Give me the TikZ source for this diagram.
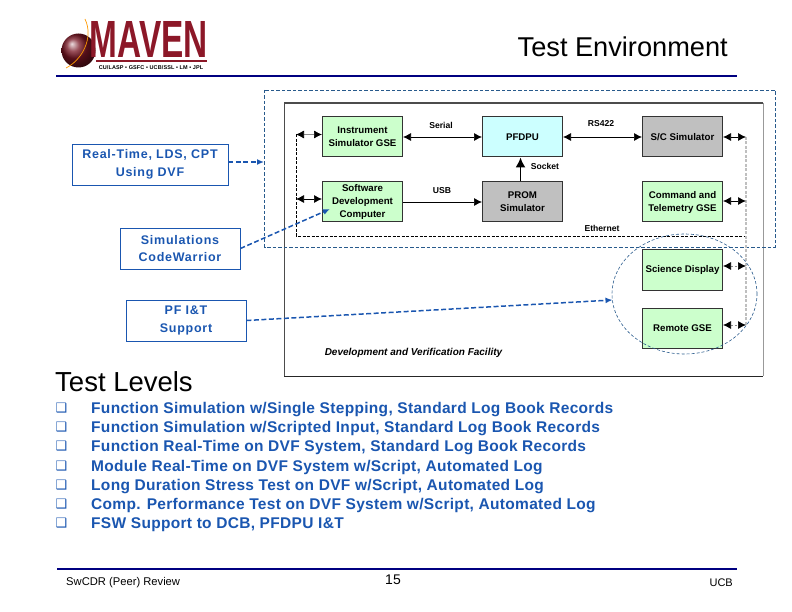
\documentclass[tikz,border=0pt]{standalone}
\usepackage{fontspec}
\setmainfont{Liberation Sans}
\newfontfamily\symfont{DejaVu Sans}
\usetikzlibrary{arrows.meta,positioning}
\definecolor{navy}{RGB}{0,0,128}
\definecolor{notecol}{RGB}{26,86,176}
\definecolor{framecol}{RGB}{40,90,140}
\definecolor{simgreen}{RGB}{204,255,204}
\definecolor{simcyan}{RGB}{204,255,255}
\definecolor{simgray}{RGB}{192,192,192}
\definecolor{maroon}{RGB}{140,24,40}
\begin{document}
\begin{tikzpicture}[x=1pt,y=-1pt,node distance=24pt and 79pt,
unit/.style={draw=black!80,line width=1pt,minimum width=80pt,minimum height=40pt,inner sep=0pt,align=center,font=\fontsize{9.7}{13}\selectfont\bfseries},
greenunit/.style={unit,fill=simgreen},
grayunit/.style={unit,fill=simgray},
tag/.style={font=\fontsize{8.6}{9}\selectfont\bfseries,inner sep=0pt},
notebox/.style={draw=notecol,line width=.8pt,inner sep=0pt,align=center,text=notecol,font=\fontsize{12.5}{17.5}\selectfont\bfseries\addfontfeature{LetterSpace=6}},
link/.style={{Latex[length=8pt,width=8pt]}-{Latex[length=8pt,width=8pt]},line width=.7pt,black},
faintlink/.style={{Latex[length=8pt,width=8pt,black]}-{Latex[length=8pt,width=8pt,black]},line width=.7pt,black!45},
oneway/.style={-{Latex[length=8pt,width=8pt]},line width=.7pt,black},
pointer/.style={-{Latex[length=7pt,width=6pt]},notecol,dash pattern=on 5pt off 2.5pt,line width=1.5pt},
item/.style={anchor=base west,inner sep=0pt,text=notecol,font=\fontsize{15.5}{16}\selectfont\bfseries\addfontfeature{LetterSpace=2}},
tickbox/.style={inner sep=0pt,text=notecol,font=\symfont\fontsize{13}{13}\selectfont}]
\useasboundingbox (0,0) rectangle (792,612);
% logo
\shade[ball color=maroon!85!black] (78.5,50.5) circle (17pt);
\draw[orange!80!yellow,line width=.7pt] (85,19) .. controls (94,38) and (82,60) .. (66,68);
\node[inner sep=0pt,text=maroon] (maven) at (149,40) {\resizebox{118pt}{36pt}{\bfseries MAVEN}};
\draw[maroon,line width=1.2pt] (96,61) -- (207,61);
\node[inner sep=0pt,font=\fontsize{5.5}{6}\selectfont\bfseries\addfontfeature{LetterSpace=2}] (partners) at (151,67.5) {CU/LASP • GSFC • UCB/SSL • LM • JPL};
% title and rules
\node[anchor=base east,inner sep=0pt,font=\fontsize{27.2}{30}\selectfont] (title) at (728,57) {Test Environment};
\draw[navy,line width=2.5pt] (56,76) -- (737,76);
\draw[navy,line width=2.5pt] (57,569) -- (737,569);
% facility frame
\draw[black!40,line width=.8pt] (763,103) -- (763,376);
\draw[black!70,line width=1pt] (284,376) -- (284,103);
\draw[black!70,line width=1.5pt] (284,103) -- (763,103);
\draw[black!85,line width=.8pt] (284,376) -- (763,376);
\draw[framecol,dash pattern=on 3.5pt off 2pt,line width=.7pt] (264.5,90) rectangle (775,247);
% units
\node[greenunit] (isim) at (362.5,137) {Instrument\\Simulator GSE};
\node[unit,fill=simcyan,right=of isim] (pfdpu) {PFDPU};
\node[grayunit,right=of pfdpu] (sc) {S/C Simulator};
\node[greenunit,below=of isim] (sdc) {Software\\Development\\Computer};
\node[grayunit,below=of pfdpu] (prom) {PROM\\Simulator};
\node[greenunit,below=of sc] (cmd) {Command and\\Telemetry GSE};
\node[greenunit,below=27pt of cmd] (display) {Science Display};
\node[greenunit,below=17pt of display] (remote) {Remote GSE};
% bus ends
\coordinate (isimbus) at (296,134.5);
\coordinate (sdcbus) at (296,199);
\coordinate (buscornerl) at (296,236);
\coordinate (buscornerr) at (746,236);
\coordinate (scbus) at (746,137);
\coordinate (cmdbus) at (746,201);
\coordinate (displaybus) at (746,266);
\coordinate (remotebus) at (746,325);
\draw[black,dash pattern=on 3pt off 1.5pt,line width=.7pt] (isimbus) -- (buscornerl) -- (buscornerr);
\draw[black!25,dash pattern=on 3pt off 1.5pt,line width=1.2pt] (scbus) -- (remotebus);
\draw[faintlink] (isimbus) -- (isim.west |- isimbus);
\draw[link] (sdcbus) -- (sdc.west |- sdcbus);
\draw[link] (sc.east |- scbus) -- (scbus);
\draw[link] (cmd.east |- cmdbus) -- (cmdbus);
\draw[faintlink,dash pattern=on 2pt off 2pt] (display.east |- displaybus) -- (displaybus);
\draw[faintlink,dash pattern=on 2pt off 2pt] (remote.east |- remotebus) -- (remotebus);
\draw[link] (isim) -- (pfdpu);
\draw[link] (pfdpu) -- (sc);
\draw[oneway] (sdc) -- (prom);
\draw[-{Latex[length=10pt,width=10pt]},line width=1.5pt] ([xshift=-2pt]prom.north) -- ([xshift=-2pt]pfdpu.south);
% labels
\node[tag] (serial) at (441,125) {Serial};
\node[tag] (usb) at (442,191) {USB};
\node[tag] (rs) at (601,124) {RS422};
\node[tag] (socket) at (545,166) {Socket};
\node[tag] (ethernet) at (602,228) {Ethernet};
\node[tag,font=\fontsize{10}{11}\selectfont\bfseries\itshape] (facility) at (413.5,353) {Development and Verification Facility};
\draw[framecol,dash pattern=on 3pt off 2pt,line width=.6pt] (684.5,294) ellipse (72.5pt and 60pt);
\coordinate (groupleft) at (612.5,300);
\coordinate (frameleft) at (264,162);
\coordinate (sdcpoint) at (330,209);
% notes
\node[notebox,minimum width=156pt,minimum height=41pt] (rt) at (150,164.5) {Real-Time, LDS, CPT\\Using DVF};
\node[notebox,minimum width=120pt,minimum height=41pt] (sim) at (180,248.5) {Simulations\\CodeWarrior};
\node[notebox,minimum width=120pt,minimum height=41pt] (pf) at (186,320.5) {PF I\&T\\Support};
\draw[pointer] (rt.east |- frameleft) -- (frameleft);
\draw[pointer] (sim.east) -- (sdcpoint);
\draw[pointer] (pf.east) -- (groupleft);
% test levels
\node[anchor=base west,inner sep=0pt,font=\fontsize{27.5}{30}\selectfont] (levels) at (55,391) {Test Levels};
\node[item] (l1) at (91,413) {Function Simulation w/Single Stepping, Standard Log Book Records};
\node[item] (l2) at (91,432) {Function Simulation w/Scripted Input, Standard Log Book Records};
\node[item] (l3) at (91,451) {Function Real-Time on DVF System, Standard Log Book Records};
\node[item] (l4) at (91,471) {Module Real-Time on DVF System w/Script, Automated Log};
\node[item] (l5) at (91,490) {Long Duration Stress Test on DVF w/Script, Automated Log};
\node[item] (l6) at (91,509) {Comp. Performance Test on DVF System w/Script, Automated Log};
\node[item] (l7) at (91,528) {FSW Support to DCB, PFDPU I\&T};
\foreach \y/\name in {408/m1,427/m2,446/m3,466/m4,485/m5,504/m6,523/m7}
  \node[tickbox] (\name) at (61.5,\y) {❑};
% footer
\node[anchor=base west,inner sep=0pt,font=\fontsize{11.2}{12}\selectfont] (review) at (66,585) {SwCDR (Peer) Review};
\node[inner sep=0pt,font=\fontsize{14}{16}\selectfont] (page) at (393,580) {15};
\node[anchor=base east,inner sep=0pt,font=\fontsize{11}{12}\selectfont] (ucb) at (733,586) {UCB};
\end{tikzpicture}
\end{document}
